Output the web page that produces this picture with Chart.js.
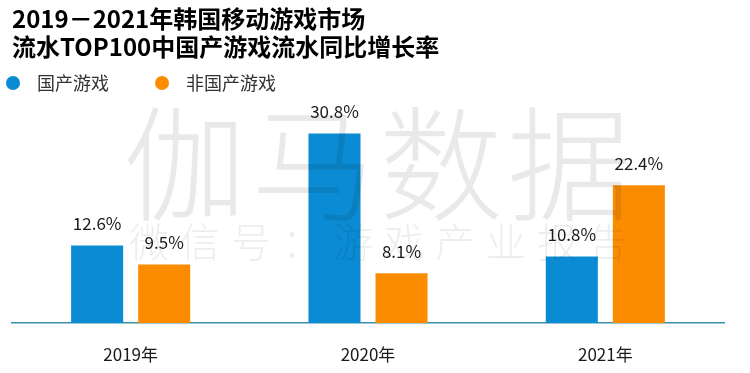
<!DOCTYPE html>
<html>
<head>
<meta charset="utf-8">
<script src="https://cdn.jsdelivr.net/npm/chart.js@4"></script>
<style>
  html, body { margin: 0; padding: 0; background: #fff; }
  #wrap { width: 750px; height: 373px; }
</style>
</head>
<body>
<div id="wrap"><canvas id="growth-bar-chart"></canvas></div>
<script>
var years = ['2019年', '2020年', '2021年'];
var domesticGrowth = [12.6, 30.8, 10.8];
var foreignGrowth = [9.5, 8.1, 22.4];
var seriesNames = ['国产游戏', '非国产游戏'];
var titleLines = ['2019－2021年韩国移动游戏市场', '流水TOP100中国产游戏流水同比增长率'];

var CJK = '"Noto Sans CJK SC", "Noto Sans", sans-serif';

// 图例（圆点 + 文字）
var dotLegend = {
    id: 'dotLegend',
    afterDraw: function(chart) {
        var ctx = chart.ctx;
        var xs = [13, 162];
        ctx.save();
        ctx.font = '18px ' + CJK;
        ctx.textBaseline = 'middle';
        ctx.textAlign = 'left';
        chart.data.datasets.forEach(function(ds, i) {
            ctx.fillStyle = ds.backgroundColor;
            ctx.beginPath();
            ctx.arc(xs[i], 83, 7, 0, Math.PI * 2);
            ctx.fill();
            ctx.fillStyle = '#333';
            ctx.fillText(ds.label, xs[i] + 24, 83);
        });
        ctx.restore();
    }
};

// 柱顶百分比标签
var valueLabels = {
    id: 'valueLabels',
    afterDatasetsDraw: function(chart) {
        var ctx = chart.ctx;
        ctx.save();
        ctx.font = '17px ' + CJK;
        ctx.fillStyle = '#1a1a1a';
        ctx.textAlign = 'center';
        ctx.textBaseline = 'middle';
        chart.data.datasets.forEach(function(ds, i) {
            chart.getDatasetMeta(i).data.forEach(function(bar, j) {
                ctx.fillText(ds.data[j].toFixed(1) + '%', bar.x, bar.y - 22);
            });
        });
        ctx.restore();
    }
};

// 水印
var watermark = {
    id: 'watermark',
    afterDraw: function(chart) {
        var ctx = chart.ctx;
        ctx.save();
        ctx.fillStyle = 'rgba(0,0,0,0.085)';
        ctx.textAlign = 'center';
        ctx.textBaseline = 'middle';
        ctx.font = '300 124px ' + CJK;
        '伽马数据'.split('').forEach(function(ch, i) {
            ctx.fillText(ch, 185 + i * 128, 164);
        });
        ctx.fillStyle = 'rgba(0,0,0,0.07)';
        ctx.font = '300 40px ' + CJK;
        '微信号：游戏产业报告'.split('').forEach(function(ch, i) {
            ctx.fillText(ch, 149 + i * 51, 242);
        });
        ctx.restore();
    }
};

var data = {
    labels: years,
    datasets: [{
        label: seriesNames[0],
        data: domesticGrowth,
        backgroundColor: '#0a8bd3',
        categoryPercentage: 0.565,
        barPercentage: 0.776
    }, {
        label: seriesNames[1],
        data: foreignGrowth,
        backgroundColor: '#fb8c00',
        categoryPercentage: 0.565,
        barPercentage: 0.776
    }]
};

var layout = {
    type: 'bar',
    data: data,
    options: {
        responsive: true,
        maintainAspectRatio: false,
        animation: false,
        layout: {
            padding: { left: 12, right: 26, top: 0, bottom: 0 }
        },
        plugins: {
            title: {
                display: true,
                text: titleLines,
                align: 'start',
                color: '#000',
                font: { family: CJK, size: 24, weight: 'bold', lineHeight: 1.2 },
                padding: { top: 4, bottom: 40 }
            },
            legend: { display: false },
            tooltip: { enabled: false }
        },
        scales: {
            x: {
                grid: { display: false, drawTicks: false },
                border: { display: true, color: '#3a8ea8', width: 1.5 },
                ticks: {
                    color: '#1a1a1a',
                    padding: 21,
                    font: { family: CJK, size: 17 }
                },
                afterFit: function(scale) {
                    scale.height = 50;
                }
            },
            y: {
                display: false,
                min: 0,
                max: 36
            }
        }
    },
    plugins: [valueLabels, watermark, dotLegend]
};

new Chart(document.getElementById('growth-bar-chart'), layout);
</script>
</body>
</html>
